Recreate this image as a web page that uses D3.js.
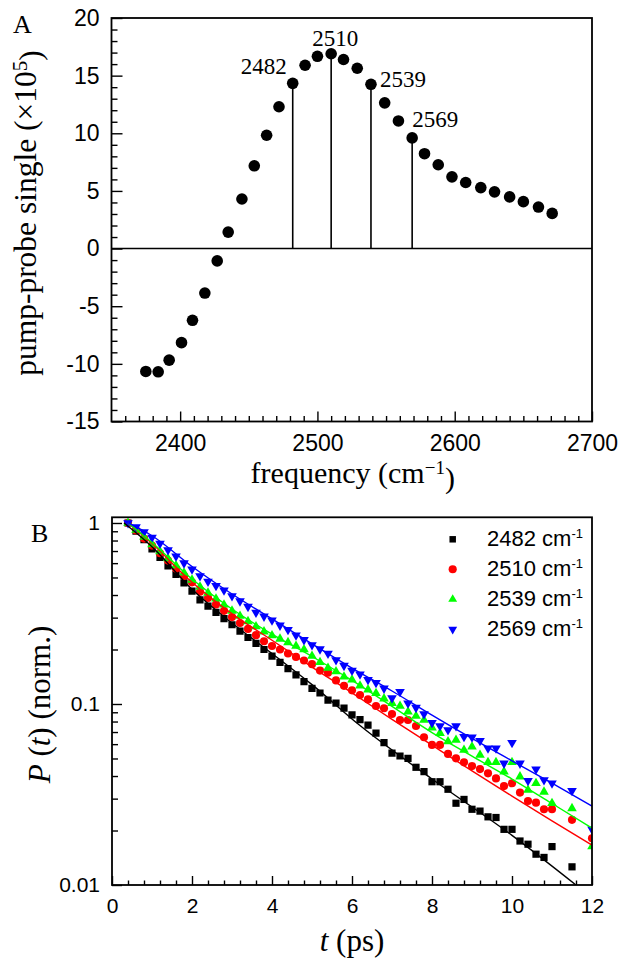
<!DOCTYPE html>
<html>
<head>
<meta charset="utf-8">
<script src="https://cdn.jsdelivr.net/npm/d3@7"></script>
<style>
  body { margin: 0; background: #fff; }
  text { fill: #000; }
  .sans { font-family: "Liberation Sans", Arial, sans-serif; }
  .serif { font-family: "Liberation Serif", "Times New Roman", serif; }
</style>
</head>
<body>
<svg id="chart" width="627" height="964"></svg>
<script>
// ---- panel A: pump-probe spectrum ----
var freqs = [2375, 2384, 2392, 2401, 2409, 2418, 2427, 2435, 2445, 2454, 2463, 2472,
  2482, 2491, 2500, 2510, 2519, 2529, 2539, 2549, 2559, 2569, 2578, 2588, 2598, 2608,
  2619, 2629, 2640, 2650, 2661, 2671];
var signal = [-10.66, -10.69, -9.68, -8.16, -6.22, -3.86, -1.07, 1.43, 4.3, 7.18, 9.83, 12.3,
  14.33, 15.9, 16.68, 16.9, 16.4, 15.64, 14.25, 12.64, 11.07, 9.6, 8.23, 7.27, 6.22, 5.73,
  5.29, 4.92, 4.48, 4.07, 3.6, 3.05];
var stemFreqs = [2482, 2510, 2539, 2569];
var freqTicks = [2400, 2500, 2600, 2700];
var signalTicks = [-15, -10, -5, 0, 5, 10, 15, 20];

// ---- panel B: population decays ----
var tValues = [0.4, 0.6, 0.8, 1.0, 1.2, 1.4, 1.6, 1.8, 2.0, 2.2, 2.4, 2.6, 2.8, 3.0, 3.2, 3.4,
  3.6, 3.8, 4.0, 4.2, 4.4, 4.6, 4.8, 5.0, 5.2, 5.4, 5.6, 5.8, 6.0, 6.2, 6.4, 6.6, 6.8, 7.0,
  7.2, 7.4, 7.6, 7.8, 8.0, 8.2, 8.4, 8.6, 8.8, 9.0, 9.2, 9.4, 9.6, 9.8, 10.0, 10.2, 10.4,
  10.6, 10.8, 11.0, 11.5, 12.0];
var p2482 = [1.00, 0.90, 0.81, 0.72, 0.645, 0.58, 0.52, 0.467, 0.42, 0.376, 0.347, 0.321,
  0.296, 0.274, 0.253, 0.233, 0.216, 0.20, 0.184, 0.17, 0.157, 0.145, 0.133, 0.122, 0.115,
  0.105, 0.101, 0.095, 0.087, 0.082, 0.0765, 0.069, 0.0611, 0.0535, 0.0516, 0.0501, 0.0447,
  0.0423, 0.0372, 0.0372, 0.0338, 0.0283, 0.0297, 0.0262, 0.0256, 0.0238, 0.0236, 0.0203,
  0.0203, 0.0175, 0.0168, 0.0148, 0.0142, 0.0163, 0.0126, null];
var p2510 = [1.00, 0.91, 0.82, 0.75, 0.68, 0.62, 0.56, 0.51, 0.47, 0.417, 0.385, 0.355,
  0.327, 0.302, 0.28, 0.26, 0.24, 0.222, 0.209, 0.20, 0.19, 0.182, 0.174, 0.166, 0.153,
  0.149, 0.135, 0.126, 0.119, 0.112, 0.106, 0.0975, 0.0947, 0.0881, 0.0816, 0.0816, 0.0756,
  0.0655, 0.0594, 0.0594, 0.053, 0.0501, 0.0476, 0.0454, 0.0437, 0.0414, 0.0388, 0.0352,
  0.0365, 0.0324, 0.0291, 0.0285, 0.0262, 0.0262, 0.0229, 0.0181];
var p2539 = [1.00, 0.914, 0.836, 0.762, 0.697, 0.637, 0.582, 0.531, 0.485, 0.444, 0.411,
  0.381, 0.353, 0.327, 0.306, 0.286, 0.268, 0.251, 0.239, 0.229, 0.219, 0.209, 0.20, 0.184,
  0.17, 0.158, 0.151, 0.1415, 0.136, 0.126, 0.12, 0.1147, 0.107, 0.101, 0.0975, 0.0906,
  0.0859, 0.0816, 0.074, 0.069, 0.062, 0.0632, 0.0557, 0.0581, 0.0523, 0.0476, 0.0476,
  0.0423, 0.0476, 0.0397, 0.0335, 0.0365, 0.0327, 0.0283, 0.0265, 0.0163];
var p2569 = [1.00, 0.95, 0.89, 0.83, 0.77, 0.71, 0.655, 0.60, 0.555, 0.51, 0.475, 0.45,
  0.425, 0.395, 0.37, 0.345, 0.32, 0.305, 0.29, 0.272, 0.257, 0.24, 0.226, 0.212, 0.201,
  0.19, 0.175, 0.163, 0.153, 0.146, 0.136, 0.131, 0.122, 0.108, 0.117, 0.101, 0.0955,
  0.0881, 0.0788, 0.0756, 0.0718, 0.0756, 0.0659, 0.0655, 0.0627, 0.0569, 0.0569, 0.047,
  0.0611, 0.047, 0.0377, 0.0436, 0.038, 0.0365, 0.0332, 0.0203];

// fitted curves, read at a few times
var fitT = [0.4, 1.0, 2.0, 3.0, 4.0, 5.0, 6.0, 7.0, 8.0, 9.0, 10.0, 11.0, 12.0];
var fit2482T = [0.3, 1.0, 2.0, 3.0, 4.0, 5.0, 6.2, 8.0, 10.0, 11.6];
var fit2482 = [1.0, 0.74, 0.43, 0.28, 0.19, 0.128, 0.076, 0.0385, 0.0188, 0.01];
var fit2510 = [1.0, 0.77, 0.47, 0.315, 0.225, 0.16, 0.1153, 0.0822, 0.0592, 0.0427, 0.031, 0.0226, 0.0166];
var fit2539 = [1.0, 0.78, 0.49, 0.335, 0.243, 0.183, 0.135, 0.097, 0.0695, 0.0515, 0.0385, 0.0282, 0.0206];
var fit2569 = [1.0, 0.85, 0.575, 0.405, 0.295, 0.215, 0.158, 0.118, 0.0868, 0.0645, 0.0485, 0.0365, 0.0273];

var timeTicks = [0, 2, 4, 6, 8, 10, 12];
var pTicks = [0.01, 0.1, 1];

var svg = d3.select('#chart');

var plain = function(d) { return String(d); };

var drawFrame = function(g, x0, x1, y0, y1) {
  g.append('rect')
    .attr('x', x0).attr('y', y0)
    .attr('width', x1 - x0).attr('height', y1 - y0)
    .attr('fill', 'none').attr('stroke', '#000').attr('stroke-width', 1.8);
};

var cleanAxis = function(g) {
  g.select('.domain').remove();
  g.selectAll('.tick line').attr('stroke', '#000').attr('stroke-width', 1.4);
};

// =================== Panel A ===================
var ax = d3.scaleLinear().domain([2350, 2700]).range([111.5, 592]);
var ay = d3.scaleLinear().domain([-15, 20]).range([421.5, 18]);

var gA = svg.append('g');

// minor ticks
gA.append('g').attr('transform', 'translate(0,' + ay(-15) + ')')
  .call(d3.axisBottom(ax).tickValues(d3.range(2360, 2700, 10).filter(function(d) { return d % 100 !== 0; }))
    .tickSizeInner(-5.5).tickSizeOuter(0).tickFormat(''))
  .call(cleanAxis);
gA.append('g').attr('transform', 'translate(' + ax(2350) + ',0)')
  .call(d3.axisLeft(ay).tickValues(d3.range(-14, 20, 1).filter(function(d) { return d % 5 !== 0; }))
    .tickSizeInner(-6).tickSizeOuter(0).tickFormat(''))
  .call(cleanAxis);

// major ticks + labels
gA.append('g').attr('transform', 'translate(0,' + ay(-15) + ')')
  .call(d3.axisBottom(ax).tickValues(freqTicks).tickFormat(plain)
    .tickSizeInner(-10).tickSizeOuter(0).tickPadding(13))
  .call(cleanAxis)
  .selectAll('text').attr('class', 'sans').style('font-size', '23px').attr('fill', '#000');
gA.append('g').attr('transform', 'translate(' + ax(2350) + ',0)')
  .call(d3.axisLeft(ay).tickValues(signalTicks).tickFormat(plain)
    .tickSizeInner(-11).tickSizeOuter(0).tickPadding(12))
  .call(cleanAxis)
  .selectAll('text').attr('class', 'sans').style('font-size', '23px').attr('fill', '#000');

drawFrame(gA, ax(2350), ax(2700), ay(20), ay(-15));

// zero line
gA.append('line')
  .attr('x1', ax(2350)).attr('x2', ax(2700))
  .attr('y1', ay(0)).attr('y2', ay(0))
  .attr('stroke', '#000').attr('stroke-width', 1.4);

var specData = freqs.map(function(f, i) { return { f: f, v: signal[i] }; });
var stems = specData.filter(function(d) { return stemFreqs.indexOf(d.f) >= 0; });

gA.selectAll('line.stem')
  .data(stems)
  .enter()
  .append('line')
  .attr('class', 'stem')
  .attr('x1', function(d) { return ax(d.f); })
  .attr('x2', function(d) { return ax(d.f); })
  .attr('y1', ay(0))
  .attr('y2', function(d) { return ay(d.v); })
  .attr('stroke', '#000').attr('stroke-width', 1.6);

gA.selectAll('circle')
  .data(specData)
  .enter()
  .append('circle')
  .attr('cx', function(d) { return ax(d.f); })
  .attr('cy', function(d) { return ay(d.v); })
  .attr('r', 5.8)
  .attr('fill', '#000');

// peak labels, offset from their points
var labelOffsets = {
  2482: { dx: -6, dy: -9, anchor: 'end' },
  2510: { dx: 4, dy: -8, anchor: 'middle' },
  2539: { dx: 9, dy: 3, anchor: 'start' },
  2569: { dx: 0, dy: -11, anchor: 'start' }
};
gA.selectAll('text.peak')
  .data(stems)
  .enter()
  .append('text')
  .attr('class', 'serif')
  .attr('x', function(d) { return ax(d.f) + labelOffsets[d.f].dx; })
  .attr('y', function(d) { return ay(d.v) + labelOffsets[d.f].dy; })
  .attr('text-anchor', function(d) { return labelOffsets[d.f].anchor; })
  .style('font-size', '23px')
  .text(function(d) { return d.f; });

gA.append('text').attr('class', 'serif')
  .attr('x', 13).attr('y', 33).style('font-size', '26px').text('A');

var yTitleA = gA.append('text').attr('class', 'serif')
  .attr('transform', 'translate(36,213) rotate(-90)')
  .attr('text-anchor', 'middle').style('font-size', '31.5px');
yTitleA.append('tspan').text('pump-probe single (\u00d710');
yTitleA.append('tspan').attr('dy', '-0.45em').style('font-size', '21px').text('5');
yTitleA.append('tspan').attr('dy', '0.45em').text(')');

var xTitleA = gA.append('text').attr('class', 'serif')
  .attr('x', (ax(2350) + ax(2700)) / 2 + 1).attr('y', 483)
  .attr('text-anchor', 'middle').style('font-size', '30px');
xTitleA.append('tspan').text('frequency (cm');
xTitleA.append('tspan').attr('dy', '-0.45em').style('font-size', '19px').text('\u22121');
xTitleA.append('tspan').attr('dy', '0.45em').text(')');

// =================== Panel B ===================
var bx = d3.scaleLinear().domain([0, 12]).range([112, 592]);
var by = d3.scaleLog().domain([0.01, 1.075]).range([885, 517.3]);

var gB = svg.append('g');

var minorP = [];
[0.01, 0.1].forEach(function(dec) {
  d3.range(2, 10).forEach(function(k) { minorP.push(dec * k); });
});
var minorT = d3.range(0, 12.01, 0.4).filter(function(d) {
  return Math.abs(d / 2 - Math.round(d / 2)) > 0.01;
});

gB.append('g').attr('transform', 'translate(0,' + by(0.01) + ')')
  .call(d3.axisBottom(bx).tickValues(minorT).tickSizeInner(-4.5).tickSizeOuter(0).tickFormat(''))
  .call(cleanAxis);
gB.append('g').attr('transform', 'translate(' + bx(0) + ',0)')
  .call(d3.axisLeft(by).tickValues(minorP).tickSizeInner(-6).tickSizeOuter(0).tickFormat(''))
  .call(cleanAxis);

gB.append('g').attr('transform', 'translate(0,' + by(0.01) + ')')
  .call(d3.axisBottom(bx).tickValues(timeTicks).tickFormat(plain)
    .tickSizeInner(-9).tickSizeOuter(0).tickPadding(13))
  .call(cleanAxis)
  .selectAll('text').attr('class', 'sans').style('font-size', '21px').attr('fill', '#000');
gB.append('g').attr('transform', 'translate(' + bx(0) + ',0)')
  .call(d3.axisLeft(by).tickValues(pTicks).tickFormat(plain)
    .tickSizeInner(-10).tickSizeOuter(0).tickPadding(12))
  .call(cleanAxis)
  .selectAll('text').attr('class', 'sans').style('font-size', '21px').attr('fill', '#000');

svg.append('defs').append('clipPath').attr('id', 'clipB')
  .append('rect').attr('x', bx(0)).attr('y', by(1.075))
  .attr('width', bx(12) - bx(0)).attr('height', by(0.01) - by(1.075));

var series = [
  { name: '2482', values: p2482, color: '#000000', symbol: d3.symbolSquare, size: 52, rot: 0,
    fitT: fit2482T, fit: fit2482 },
  { name: '2510', values: p2510, color: '#ff0000', symbol: d3.symbolCircle, size: 52, rot: 0,
    fitT: fitT, fit: fit2510 },
  { name: '2539', values: p2539, color: '#00ff00', symbol: d3.symbolTriangle, size: 40, rot: 0,
    fitT: fitT, fit: fit2539 },
  { name: '2569', values: p2569, color: '#0000ff', symbol: d3.symbolTriangle, size: 40, rot: 180,
    fitT: fitT, fit: fit2569 }
];

var plotB = gB.append('g').attr('clip-path', 'url(#clipB)');

var line = d3.line()
  .x(function(d) { return bx(d[0]); })
  .y(function(d) { return by(d[1]); })
  .curve(d3.curveMonotoneX);

series.forEach(function(s) {
  var pts = tValues.map(function(t, i) { return [t, s.values[i]]; })
    .filter(function(d) { return d[1] !== null; });
  plotB.append('g')
    .selectAll('path')
    .data(pts)
    .enter()
    .append('path')
    .attr('d', d3.symbol().type(s.symbol).size(s.size))
    .attr('transform', function(d) {
      return 'translate(' + bx(d[0]) + ',' + by(d[1]) + ') rotate(' + s.rot + ')';
    })
    .attr('fill', s.color);
});

series.forEach(function(s) {
  var fitPts = s.fitT.map(function(t, i) { return [t, s.fit[i]]; });
  plotB.append('path')
    .datum(fitPts)
    .attr('d', line)
    .attr('fill', 'none')
    .attr('stroke', s.color)
    .attr('stroke-width', 1.4);
});

drawFrame(gB, bx(0), bx(12), by(1.075), by(0.01));

// legend
var legend = gB.append('g');
series.forEach(function(s, i) {
  var cy = 539.3 + i * 30;
  legend.append('path')
    .attr('d', d3.symbol().type(s.symbol).size(i === 0 ? 42 : (i === 1 ? 52 : 34)))
    .attr('transform', 'translate(452.7,' + cy + ') rotate(' + s.rot + ')')
    .attr('fill', s.color);
  var t = legend.append('text').attr('class', 'sans')
    .attr('x', 487).attr('y', cy + 7).style('font-size', '22px');
  t.append('tspan').text(s.name + ' cm');
  t.append('tspan').attr('dy', '-0.62em').style('font-size', '13px').text('-1');
});

gB.append('text').attr('class', 'serif')
  .attr('x', 31).attr('y', 542).style('font-size', '26px').text('B');

var yTitleB = gB.append('text').attr('class', 'serif')
  .attr('transform', 'translate(50,704.5) rotate(-90)')
  .attr('text-anchor', 'middle').style('font-size', '31px');
yTitleB.append('tspan').style('font-style', 'italic').text('P');
yTitleB.append('tspan').text(' (');
yTitleB.append('tspan').style('font-style', 'italic').text('t');
yTitleB.append('tspan').text(') (norm.)');

var xTitleB = gB.append('text').attr('class', 'serif')
  .attr('x', (bx(0) + bx(12)) / 2).attr('y', 951)
  .attr('text-anchor', 'middle').style('font-size', '31px');
xTitleB.append('tspan').style('font-style', 'italic').text('t');
xTitleB.append('tspan').text(' (ps)');
</script>
</body>
</html>
